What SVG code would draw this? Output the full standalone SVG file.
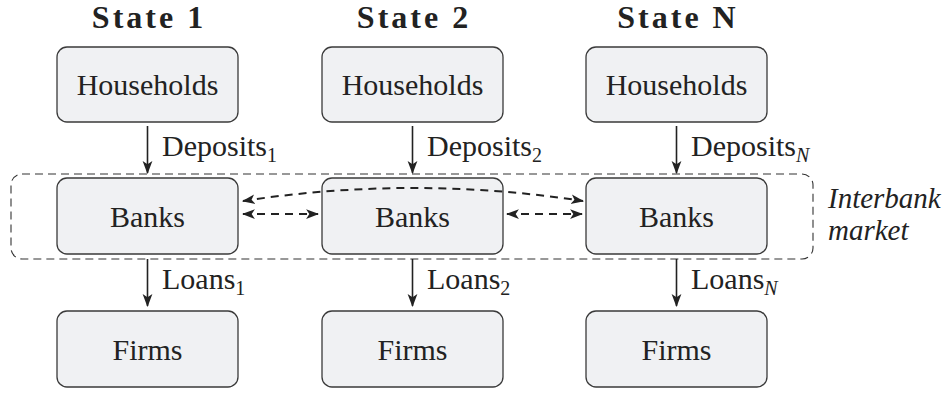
<svg xmlns="http://www.w3.org/2000/svg" width="947" height="393" viewBox="0 0 947 393">
<style>
.box{fill:#f0f1f3;stroke:#3a3a3a;stroke-width:1.3}
text{font-family:'Liberation Serif','Times New Roman',Times,'DejaVu Serif',serif;fill:#222}
.t{font-size:30px;text-anchor:middle}
.lab{font-size:30px}
.it2{font-size:29px;font-style:italic}
.sub{font-size:20px}
.it{font-style:italic}
.title{font-size:32px;font-weight:bold;text-anchor:middle;letter-spacing:3px}
.solid{stroke:#222;stroke-width:1.6;fill:none;marker-end:url(#ah)}
.dash{stroke:#222;stroke-width:2;fill:none;stroke-dasharray:8 6;marker-end:url(#ah);marker-start:url(#ah)}
.market{fill:none;stroke:#333;stroke-width:1.1;stroke-dasharray:8 5}
</style>
<defs>
<marker id="ah" markerUnits="userSpaceOnUse" viewBox="0 0 12 10" refX="11" refY="5" markerWidth="13" markerHeight="11" orient="auto-start-reverse">
<path d="M0,0.5 L12,5 L0,9.5 L3,5 z" fill="#222" stroke="none"/>
</marker>
</defs>
<rect width="947" height="393" fill="#fff"/>
<g id="titles">
<text class="title" x="149" y="28">State 1</text>
<text class="title" x="414" y="28">State 2</text>
<text class="title" x="678" y="28">State N</text>
</g>
<g id="interbank-market">
<rect class="market" x="11" y="174" width="802" height="85" rx="11"/>
<text class="it2" x="828" y="208">Interbank</text>
<text class="it2" x="828" y="240">market</text>
</g>
<g id="households1"><rect class="box" x="57" y="47" width="181" height="75" rx="10"/><text class="t" x="147.5" y="95">Households</text></g>
<g id="households2"><rect class="box" x="322" y="47" width="181" height="75" rx="10"/><text class="t" x="412.5" y="95">Households</text></g>
<g id="households3"><rect class="box" x="586" y="47" width="181" height="75" rx="10"/><text class="t" x="676.5" y="95">Households</text></g>
<g id="banks1"><rect class="box" x="57" y="178" width="181" height="76" rx="10"/><text class="t" x="147.5" y="227">Banks</text></g>
<g id="banks2"><rect class="box" x="322" y="178" width="181" height="76" rx="10"/><text class="t" x="412.5" y="227">Banks</text></g>
<g id="banks3"><rect class="box" x="586" y="178" width="181" height="76" rx="10"/><text class="t" x="676.5" y="227">Banks</text></g>
<g id="firms1"><rect class="box" x="57" y="311" width="181" height="76" rx="10"/><text class="t" x="147.5" y="360">Firms</text></g>
<g id="firms2"><rect class="box" x="322" y="311" width="181" height="76" rx="10"/><text class="t" x="412.5" y="360">Firms</text></g>
<g id="firms3"><rect class="box" x="586" y="311" width="181" height="76" rx="10"/><text class="t" x="676.5" y="360">Firms</text></g>
<g id="connectors">
<line class="solid" x1="147.5" y1="126" x2="147.5" y2="173"/>
<line class="solid" x1="412.5" y1="126" x2="412.5" y2="173"/>
<line class="solid" x1="676.5" y1="126" x2="676.5" y2="173"/>
<line class="solid" x1="147.5" y1="259" x2="147.5" y2="306"/>
<line class="solid" x1="412.5" y1="259" x2="412.5" y2="306"/>
<line class="solid" x1="676.5" y1="259" x2="676.5" y2="306"/>
<line class="dash" x1="243" y1="214" x2="318" y2="214"/>
<line class="dash" x1="507" y1="214" x2="582" y2="214"/>
<path class="dash" d="M243,201 Q413,175 583,201"/>
<text class="lab" x="162" y="156">Deposits<tspan class="sub" dy="6">1</tspan></text>
<text class="lab" x="427" y="156">Deposits<tspan class="sub" dy="6">2</tspan></text>
<text class="lab" x="691" y="156">Deposits<tspan class="sub it" dy="6">N</tspan></text>
<text class="lab" x="162" y="289">Loans<tspan class="sub" dy="6">1</tspan></text>
<text class="lab" x="427" y="289">Loans<tspan class="sub" dy="6">2</tspan></text>
<text class="lab" x="691" y="289">Loans<tspan class="sub it" dy="6">N</tspan></text>
</g>
</svg>
